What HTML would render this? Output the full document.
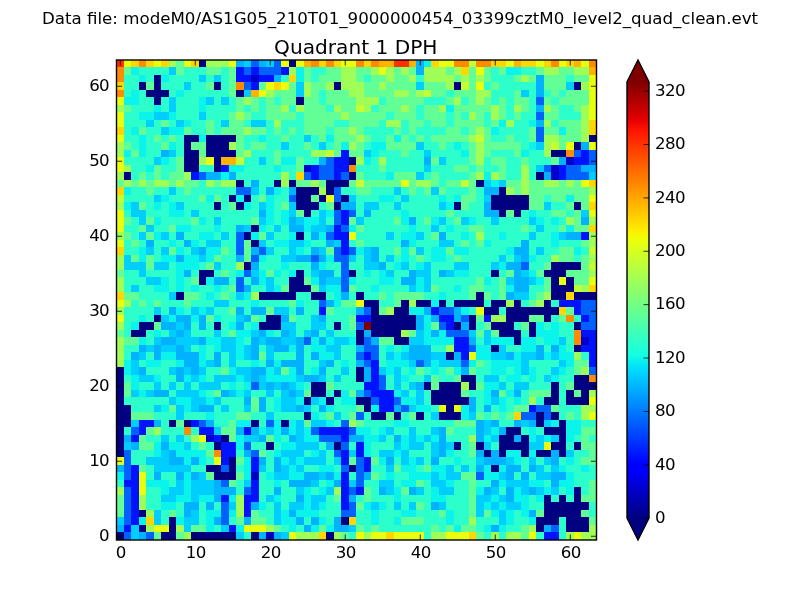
<!DOCTYPE html>
<html><head><meta charset="utf-8"><title>Quadrant 1 DPH</title>
<style>
html,body{margin:0;padding:0;background:#fff;}
#fig{position:relative;width:800px;height:600px;overflow:hidden;background:#fff;font-family:"DejaVu Sans","Liberation Sans",sans-serif;color:#000;}
</style></head><body><div id="fig">
<svg width="800" height="600" viewBox="0 0 800 600" style="position:absolute;left:0;top:0">
<defs><linearGradient id="cb" x1="0" y1="1" x2="0" y2="0">
<stop offset="0.0000" stop-color="#000080"/>
<stop offset="0.0156" stop-color="#000092"/>
<stop offset="0.0312" stop-color="#0000a4"/>
<stop offset="0.0469" stop-color="#0000b6"/>
<stop offset="0.0625" stop-color="#0000c8"/>
<stop offset="0.0781" stop-color="#0000da"/>
<stop offset="0.0938" stop-color="#0000ec"/>
<stop offset="0.1094" stop-color="#0000fe"/>
<stop offset="0.1250" stop-color="#0000ff"/>
<stop offset="0.1406" stop-color="#0010ff"/>
<stop offset="0.1562" stop-color="#0020ff"/>
<stop offset="0.1719" stop-color="#0030ff"/>
<stop offset="0.1875" stop-color="#0040ff"/>
<stop offset="0.2031" stop-color="#0050ff"/>
<stop offset="0.2188" stop-color="#0060ff"/>
<stop offset="0.2344" stop-color="#0070ff"/>
<stop offset="0.2500" stop-color="#0080ff"/>
<stop offset="0.2656" stop-color="#008fff"/>
<stop offset="0.2812" stop-color="#009fff"/>
<stop offset="0.2969" stop-color="#00afff"/>
<stop offset="0.3125" stop-color="#00bfff"/>
<stop offset="0.3281" stop-color="#00cfff"/>
<stop offset="0.3438" stop-color="#00dffc"/>
<stop offset="0.3594" stop-color="#08efef"/>
<stop offset="0.3750" stop-color="#15ffe2"/>
<stop offset="0.3906" stop-color="#21ffd5"/>
<stop offset="0.4062" stop-color="#2effc9"/>
<stop offset="0.4219" stop-color="#3bffbc"/>
<stop offset="0.4375" stop-color="#48ffaf"/>
<stop offset="0.4531" stop-color="#55ffa2"/>
<stop offset="0.4688" stop-color="#62ff95"/>
<stop offset="0.4844" stop-color="#6fff88"/>
<stop offset="0.5000" stop-color="#7bff7b"/>
<stop offset="0.5156" stop-color="#88ff6f"/>
<stop offset="0.5312" stop-color="#95ff62"/>
<stop offset="0.5469" stop-color="#a2ff55"/>
<stop offset="0.5625" stop-color="#afff48"/>
<stop offset="0.5781" stop-color="#bcff3b"/>
<stop offset="0.5938" stop-color="#c9ff2e"/>
<stop offset="0.6094" stop-color="#d5ff21"/>
<stop offset="0.6250" stop-color="#e2ff15"/>
<stop offset="0.6406" stop-color="#effe08"/>
<stop offset="0.6562" stop-color="#fcf000"/>
<stop offset="0.6719" stop-color="#ffe100"/>
<stop offset="0.6875" stop-color="#ffd200"/>
<stop offset="0.7031" stop-color="#ffc300"/>
<stop offset="0.7188" stop-color="#ffb500"/>
<stop offset="0.7344" stop-color="#ffa600"/>
<stop offset="0.7500" stop-color="#ff9700"/>
<stop offset="0.7656" stop-color="#ff8800"/>
<stop offset="0.7812" stop-color="#ff7a00"/>
<stop offset="0.7969" stop-color="#ff6b00"/>
<stop offset="0.8125" stop-color="#ff5c00"/>
<stop offset="0.8281" stop-color="#ff4d00"/>
<stop offset="0.8438" stop-color="#ff3f00"/>
<stop offset="0.8594" stop-color="#ff3000"/>
<stop offset="0.8750" stop-color="#ff2100"/>
<stop offset="0.8906" stop-color="#fe1200"/>
<stop offset="0.9062" stop-color="#ec0400"/>
<stop offset="0.9219" stop-color="#da0000"/>
<stop offset="0.9375" stop-color="#c80000"/>
<stop offset="0.9531" stop-color="#b60000"/>
<stop offset="0.9688" stop-color="#a40000"/>
<stop offset="0.9844" stop-color="#920000"/>
<stop offset="1.0000" stop-color="#800000"/>
</linearGradient></defs>
<g shape-rendering="crispEdges">
<rect x="117" y="60" width="480" height="480" fill="#2cffcb"/>
<path fill="#ff3000" d="M117 60h7v7h-7zM394 60h15v7h-15z"/>
<path fill="#e9ff0e" d="M124 60h7v7h-7zM154 60h7v7h-7zM184 60h7v7h-7zM229 60h7v7h-7zM281 60h8v7h-8zM296 60h8v7h-8zM341 60h15v7h-15zM439 60h15v7h-15zM506 60h8v7h-8zM536 60h8v7h-8zM559 60h7v7h-7zM581 60h8v7h-8zM379 67h7v8h-7zM476 67h8v8h-8zM589 75h8v7h-8zM266 82h8v8h-8zM281 82h8v8h-8zM476 82h8v8h-8zM589 82h8v8h-8zM259 90h7v7h-7zM589 90h8v7h-8zM117 97h7v8h-7zM589 97h8v8h-8zM589 105h8v7h-8zM117 112h7v8h-7zM589 112h8v8h-8zM117 120h7v7h-7zM117 135h7v7h-7zM566 142h8v8h-8zM589 142h8v8h-8zM117 157h7v8h-7zM206 157h8v8h-8zM117 165h7v7h-7zM401 180h8v7h-8zM581 180h8v7h-8zM326 195h8v7h-8zM589 195h8v7h-8zM117 210h7v7h-7zM589 210h8v7h-8zM117 217h7v8h-7zM117 225h7v7h-7zM349 232h7v8h-7zM117 240h7v7h-7zM559 277h7v8h-7zM589 277h8v8h-8zM117 300h7v7h-7zM356 300h8v7h-8zM476 307h8v8h-8zM117 315h7v7h-7zM469 352h7v8h-7zM589 397h8v8h-8zM439 405h7v7h-7zM454 405h7v7h-7zM589 412h8v8h-8zM199 435h7v7h-7zM544 442h7v8h-7zM117 457h7v8h-7zM214 457h7v8h-7zM139 472h7v8h-7zM139 480h7v7h-7zM139 487h7v8h-7zM154 525h15v7h-15zM244 525h22v7h-22zM289 532h7v8h-7zM356 532h8v8h-8zM371 532h15v8h-15zM394 532h30v8h-30zM446 532h23v8h-23zM529 532h7v8h-7zM574 532h7v8h-7z"/>
<path fill="#ffd700" d="M131 60h8v7h-8zM146 60h8v7h-8zM161 60h8v7h-8zM191 60h8v7h-8zM319 60h7v7h-7zM334 60h7v7h-7zM364 60h7v7h-7zM431 60h8v7h-8zM491 60h15v7h-15zM521 60h15v7h-15zM544 60h7v7h-7zM566 60h8v7h-8zM461 67h8v8h-8zM289 75h7v7h-7zM117 82h7v8h-7zM274 82h7v8h-7zM589 120h8v7h-8zM117 127h7v8h-7zM589 127h8v8h-8zM296 172h8v8h-8zM589 180h8v7h-8zM117 187h7v8h-7zM589 202h8v8h-8zM589 225h8v7h-8zM117 247h7v8h-7zM589 285h8v7h-8zM117 292h7v8h-7zM566 292h8v8h-8zM559 307h7v8h-7zM514 412h7v8h-7zM146 517h8v8h-8zM349 517h7v8h-7zM319 532h7v8h-7zM386 532h8v8h-8zM469 532h7v8h-7z"/>
<path fill="#ff8c00" d="M139 60h7v7h-7zM311 60h8v7h-8zM326 60h8v7h-8zM356 60h8v7h-8zM371 60h8v7h-8zM454 60h15v7h-15zM476 60h15v7h-15zM551 60h8v7h-8zM589 60h8v7h-8zM117 67h7v8h-7zM117 75h7v7h-7zM236 82h8v8h-8zM117 90h7v7h-7zM566 150h8v7h-8zM349 165h7v7h-7zM566 315h8v7h-8zM574 330h7v7h-7zM574 337h7v8h-7zM589 375h8v7h-8zM184 427h7v8h-7zM214 450h7v7h-7z"/>
<path fill="#a0ff57" d="M169 60h7v7h-7zM206 60h23v7h-23zM289 67h7v8h-7zM341 67h15v8h-15zM371 67h8v8h-8zM386 67h8v8h-8zM401 67h8v8h-8zM424 67h22v8h-22zM454 67h7v8h-7zM544 67h15v8h-15zM574 67h15v8h-15zM341 75h15v7h-15zM386 75h8v7h-8zM409 75h7v7h-7zM424 75h30v7h-30zM461 75h8v7h-8zM476 75h8v7h-8zM521 75h8v7h-8zM304 82h7v8h-7zM326 82h8v8h-8zM341 82h23v8h-23zM379 82h7v8h-7zM446 82h8v8h-8zM581 82h8v8h-8zM266 90h8v7h-8zM304 90h7v7h-7zM349 90h15v7h-15zM394 90h15v7h-15zM416 90h8v7h-8zM476 90h15v7h-15zM244 97h7v8h-7zM356 97h23v8h-23zM454 97h7v8h-7zM476 97h8v8h-8zM117 105h7v7h-7zM281 105h8v7h-8zM296 105h8v7h-8zM334 105h7v7h-7zM364 105h7v7h-7zM401 105h8v7h-8zM439 105h7v7h-7zM491 105h8v7h-8zM514 105h7v7h-7zM544 105h7v7h-7zM581 105h8v7h-8zM236 112h8v8h-8zM341 112h8v8h-8zM469 112h7v8h-7zM491 112h8v8h-8zM581 112h8v8h-8zM274 120h7v7h-7zM386 120h15v7h-15zM506 120h8v7h-8zM544 120h7v7h-7zM581 120h8v7h-8zM244 127h7v8h-7zM349 127h7v8h-7zM476 127h8v8h-8zM581 127h8v8h-8zM356 135h8v7h-8zM469 135h7v7h-7zM544 135h15v7h-15zM581 135h8v7h-8zM117 142h7v8h-7zM229 142h7v8h-7zM349 142h7v8h-7zM476 142h8v8h-8zM544 142h7v8h-7zM117 150h7v7h-7zM244 150h7v7h-7zM311 150h15v7h-15zM476 150h8v7h-8zM544 150h7v7h-7zM199 157h7v8h-7zM356 157h8v8h-8zM379 157h7v8h-7zM476 157h8v8h-8zM124 165h7v7h-7zM521 165h8v7h-8zM117 172h7v8h-7zM184 172h7v8h-7zM281 172h8v8h-8zM476 172h8v8h-8zM491 172h8v8h-8zM521 172h8v8h-8zM124 180h7v7h-7zM139 180h7v7h-7zM154 180h15v7h-15zM176 180h8v7h-8zM206 180h8v7h-8zM221 180h15v7h-15zM281 180h8v7h-8zM311 180h8v7h-8zM416 180h15v7h-15zM521 180h8v7h-8zM544 180h15v7h-15zM566 180h8v7h-8zM319 187h7v8h-7zM506 187h8v8h-8zM521 187h8v8h-8zM589 187h8v8h-8zM117 202h7v8h-7zM566 217h8v8h-8zM589 217h8v8h-8zM117 232h7v8h-7zM476 232h8v8h-8zM589 232h8v8h-8zM589 240h8v7h-8zM117 255h7v7h-7zM551 255h8v7h-8zM589 255h8v7h-8zM117 262h7v8h-7zM236 262h8v8h-8zM589 270h8v7h-8zM117 277h7v8h-7zM117 285h7v7h-7zM581 285h8v7h-8zM251 292h8v8h-8zM544 292h7v8h-7zM124 300h7v7h-7zM409 300h7v7h-7zM506 300h8v7h-8zM536 300h8v7h-8zM117 307h7v8h-7zM386 307h8v8h-8zM491 315h15v7h-15zM117 322h7v8h-7zM401 330h8v7h-8zM117 337h7v8h-7zM117 345h7v7h-7zM446 345h8v7h-8zM117 352h7v8h-7zM574 352h7v8h-7zM117 360h7v7h-7zM581 367h8v8h-8zM461 382h8v8h-8zM589 390h8v7h-8zM529 397h7v8h-7zM581 405h16v7h-16zM581 412h8v8h-8zM349 420h7v7h-7zM154 427h7v8h-7zM191 435h8v7h-8zM469 435h7v7h-7zM117 487h7v8h-7zM334 487h7v8h-7zM139 495h7v7h-7zM236 495h8v7h-8zM139 502h7v8h-7zM236 502h8v8h-8zM146 510h8v7h-8zM236 510h8v7h-8zM469 517h7v8h-7zM146 525h8v7h-8zM176 525h8v7h-8zM266 525h8v7h-8zM529 525h7v7h-7zM589 525h8v7h-8zM184 532h7v8h-7zM296 532h23v8h-23zM334 532h7v8h-7zM364 532h7v8h-7zM431 532h15v8h-15zM491 532h8v8h-8zM506 532h15v8h-15zM566 532h8v8h-8zM581 532h16v8h-16z"/>
<path fill="#61ff96" d="M176 60h8v7h-8zM124 67h7v8h-7zM176 67h8v8h-8zM206 67h15v8h-15zM229 67h7v8h-7zM304 67h7v8h-7zM326 67h15v8h-15zM356 67h15v8h-15zM394 67h7v8h-7zM409 67h7v8h-7zM446 67h8v8h-8zM469 67h7v8h-7zM484 67h7v8h-7zM499 67h7v8h-7zM536 67h8v8h-8zM559 67h15v8h-15zM229 75h7v7h-7zM304 75h7v7h-7zM319 75h22v7h-22zM356 75h8v7h-8zM371 75h15v7h-15zM394 75h15v7h-15zM454 75h7v7h-7zM469 75h7v7h-7zM484 75h7v7h-7zM514 75h7v7h-7zM529 75h7v7h-7zM544 75h22v7h-22zM574 75h15v7h-15zM146 82h8v8h-8zM206 82h8v8h-8zM229 82h7v8h-7zM259 82h7v8h-7zM289 82h7v8h-7zM311 82h15v8h-15zM364 82h15v8h-15zM386 82h30v8h-30zM424 82h22v8h-22zM469 82h7v8h-7zM491 82h8v8h-8zM544 82h22v8h-22zM229 90h7v7h-7zM274 90h22v7h-22zM311 90h8v7h-8zM326 90h23v7h-23zM364 90h30v7h-30zM409 90h7v7h-7zM431 90h15v7h-15zM454 90h22v7h-22zM514 90h7v7h-7zM551 90h8v7h-8zM566 90h23v7h-23zM236 97h8v8h-8zM251 97h8v8h-8zM266 97h8v8h-8zM281 97h15v8h-15zM304 97h15v8h-15zM326 97h30v8h-30zM386 97h38v8h-38zM446 97h8v8h-8zM469 97h7v8h-7zM484 97h7v8h-7zM499 97h7v8h-7zM514 97h15v8h-15zM544 97h7v8h-7zM559 97h30v8h-30zM124 105h7v7h-7zM236 105h8v7h-8zM251 105h8v7h-8zM266 105h15v7h-15zM304 105h22v7h-22zM341 105h15v7h-15zM379 105h22v7h-22zM409 105h7v7h-7zM424 105h15v7h-15zM454 105h37v7h-37zM499 105h7v7h-7zM521 105h8v7h-8zM551 105h8v7h-8zM574 105h7v7h-7zM229 112h7v8h-7zM244 112h7v8h-7zM266 112h30v8h-30zM304 112h37v8h-37zM349 112h37v8h-37zM394 112h22v8h-22zM424 112h22v8h-22zM454 112h7v8h-7zM476 112h8v8h-8zM499 112h7v8h-7zM514 112h7v8h-7zM544 112h15v8h-15zM161 120h8v7h-8zM206 120h8v7h-8zM229 120h15v7h-15zM304 120h30v7h-30zM349 120h30v7h-30zM409 120h15v7h-15zM431 120h15v7h-15zM454 120h30v7h-30zM491 120h8v7h-8zM559 120h22v7h-22zM139 127h7v8h-7zM184 127h7v8h-7zM206 127h8v8h-8zM221 127h23v8h-23zM251 127h15v8h-15zM274 127h7v8h-7zM289 127h7v8h-7zM304 127h22v8h-22zM334 127h15v8h-15zM356 127h8v8h-8zM394 127h7v8h-7zM409 127h7v8h-7zM446 127h15v8h-15zM469 127h7v8h-7zM484 127h7v8h-7zM529 127h7v8h-7zM544 127h15v8h-15zM566 127h15v8h-15zM154 135h7v7h-7zM169 135h7v7h-7zM236 135h8v7h-8zM281 135h8v7h-8zM319 135h7v7h-7zM334 135h22v7h-22zM364 135h7v7h-7zM386 135h8v7h-8zM401 135h8v7h-8zM416 135h8v7h-8zM431 135h38v7h-38zM484 135h7v7h-7zM506 135h8v7h-8zM529 135h7v7h-7zM559 135h22v7h-22zM124 142h7v8h-7zM161 142h8v8h-8zM191 142h15v8h-15zM236 142h8v8h-8zM251 142h15v8h-15zM304 142h7v8h-7zM334 142h7v8h-7zM356 142h8v8h-8zM386 142h30v8h-30zM439 142h7v8h-7zM469 142h7v8h-7zM484 142h37v8h-37zM559 142h7v8h-7zM131 150h8v7h-8zM199 150h7v7h-7zM236 150h8v7h-8zM274 150h7v7h-7zM334 150h7v7h-7zM349 150h15v7h-15zM401 150h8v7h-8zM469 150h7v7h-7zM484 150h7v7h-7zM514 150h7v7h-7zM176 157h8v8h-8zM274 157h7v8h-7zM296 157h8v8h-8zM431 157h8v8h-8zM469 157h7v8h-7zM491 157h15v8h-15zM521 157h8v8h-8zM551 157h8v8h-8zM154 165h7v7h-7zM176 165h8v7h-8zM296 165h8v7h-8zM379 165h7v7h-7zM454 165h15v7h-15zM476 165h8v7h-8zM499 165h7v7h-7zM139 172h7v8h-7zM154 172h7v8h-7zM169 172h15v8h-15zM356 172h8v8h-8zM394 172h22v8h-22zM431 172h8v8h-8zM469 172h7v8h-7zM499 172h7v8h-7zM117 180h7v7h-7zM131 180h8v7h-8zM146 180h8v7h-8zM169 180h7v7h-7zM184 180h15v7h-15zM214 180h7v7h-7zM296 180h15v7h-15zM319 180h7v7h-7zM349 180h7v7h-7zM364 180h37v7h-37zM409 180h7v7h-7zM431 180h8v7h-8zM446 180h15v7h-15zM469 180h7v7h-7zM506 180h15v7h-15zM529 180h15v7h-15zM559 180h7v7h-7zM574 180h7v7h-7zM146 187h8v8h-8zM184 187h7v8h-7zM356 187h15v8h-15zM409 187h7v8h-7zM424 187h7v8h-7zM439 187h7v8h-7zM469 187h7v8h-7zM514 187h7v8h-7zM529 187h60v8h-60zM199 195h7v7h-7zM214 195h7v7h-7zM259 195h7v7h-7zM311 195h8v7h-8zM461 195h15v7h-15zM529 195h15v7h-15zM551 195h15v7h-15zM574 195h15v7h-15zM139 202h7v8h-7zM229 202h7v8h-7zM281 202h8v8h-8zM326 202h8v8h-8zM461 202h8v8h-8zM529 202h15v8h-15zM566 202h8v8h-8zM581 202h8v8h-8zM296 210h8v7h-8zM446 210h8v7h-8zM506 210h8v7h-8zM551 210h15v7h-15zM574 210h7v7h-7zM124 217h7v8h-7zM146 217h8v8h-8zM191 217h8v8h-8zM251 217h8v8h-8zM349 217h7v8h-7zM394 217h7v8h-7zM424 217h7v8h-7zM454 217h7v8h-7zM574 217h7v8h-7zM139 225h7v7h-7zM169 225h7v7h-7zM356 225h8v7h-8zM469 225h15v7h-15zM521 225h8v7h-8zM559 225h7v7h-7zM574 225h15v7h-15zM124 232h7v8h-7zM146 232h8v8h-8zM259 232h7v8h-7zM431 232h8v8h-8zM131 240h8v7h-8zM244 240h7v7h-7zM356 240h8v7h-8zM461 240h8v7h-8zM476 240h8v7h-8zM581 240h8v7h-8zM169 247h7v8h-7zM221 247h8v8h-8zM244 247h7v8h-7zM326 247h8v8h-8zM394 247h7v8h-7zM409 247h7v8h-7zM446 247h8v8h-8zM559 247h15v8h-15zM131 255h8v7h-8zM146 255h8v7h-8zM214 255h7v7h-7zM244 255h7v7h-7zM416 255h8v7h-8zM454 255h7v7h-7zM559 255h15v7h-15zM581 255h8v7h-8zM146 262h8v8h-8zM206 262h8v8h-8zM544 262h7v8h-7zM581 262h8v8h-8zM117 270h7v7h-7zM221 270h8v7h-8zM266 270h8v7h-8zM506 270h8v7h-8zM536 270h8v7h-8zM566 270h23v7h-23zM191 277h8v8h-8zM304 277h7v8h-7zM476 277h8v8h-8zM499 277h7v8h-7zM544 277h7v8h-7zM574 277h15v8h-15zM229 285h7v7h-7zM281 285h8v7h-8zM311 285h8v7h-8zM349 285h7v7h-7zM431 285h8v7h-8zM469 285h15v7h-15zM499 285h7v7h-7zM544 285h7v7h-7zM124 292h15v8h-15zM184 292h15v8h-15zM221 292h8v8h-8zM379 292h7v8h-7zM394 292h30v8h-30zM469 292h7v8h-7zM484 292h7v8h-7zM499 292h7v8h-7zM536 292h8v8h-8zM139 300h7v7h-7zM154 300h7v7h-7zM184 300h7v7h-7zM289 300h7v7h-7zM341 300h15v7h-15zM394 300h7v7h-7zM529 300h7v7h-7zM229 307h7v8h-7zM266 307h8v8h-8zM326 307h8v8h-8zM379 307h7v8h-7zM566 307h8v8h-8zM206 315h8v7h-8zM251 315h8v7h-8zM289 315h7v7h-7zM349 315h7v7h-7zM476 315h8v7h-8zM529 315h15v7h-15zM559 315h7v7h-7zM154 322h7v8h-7zM349 322h7v8h-7zM431 322h8v8h-8zM484 322h7v8h-7zM521 322h8v8h-8zM117 330h7v7h-7zM229 330h7v7h-7zM409 330h7v7h-7zM476 330h8v7h-8zM491 330h8v7h-8zM124 337h15v8h-15zM379 337h15v8h-15zM259 352h7v8h-7zM476 360h8v7h-8zM574 360h15v7h-15zM221 367h8v8h-8zM281 367h8v8h-8zM416 367h8v8h-8zM446 367h8v8h-8zM469 367h7v8h-7zM574 367h7v8h-7zM431 375h8v7h-8zM454 375h7v7h-7zM124 382h7v8h-7zM326 382h8v8h-8zM431 382h8v8h-8zM476 382h8v8h-8zM566 382h8v8h-8zM124 390h7v7h-7zM214 390h7v7h-7zM304 390h7v7h-7zM349 390h7v7h-7zM461 390h8v7h-8zM499 390h7v7h-7zM529 390h22v7h-22zM574 390h7v7h-7zM251 397h8v8h-8zM169 405h7v7h-7zM251 405h8v7h-8zM356 405h8v7h-8zM514 405h15v7h-15zM551 405h8v7h-8zM131 412h23v8h-23zM236 412h15v8h-15zM326 412h8v8h-8zM349 412h7v8h-7zM386 412h8v8h-8zM409 412h7v8h-7zM476 412h8v8h-8zM491 412h8v8h-8zM506 412h8v8h-8zM566 412h8v8h-8zM176 420h8v7h-8zM229 420h7v7h-7zM304 420h7v7h-7zM356 420h8v7h-8zM454 420h22v7h-22zM146 427h8v8h-8zM221 427h15v8h-15zM446 427h8v8h-8zM581 427h16v8h-16zM139 435h7v7h-7zM229 435h7v7h-7zM266 435h8v7h-8zM581 435h8v7h-8zM139 442h15v8h-15zM199 442h7v8h-7zM469 442h7v8h-7zM581 442h16v8h-16zM206 450h8v7h-8zM259 450h7v7h-7zM469 450h7v7h-7zM589 450h8v7h-8zM236 457h8v8h-8zM349 457h7v8h-7zM371 457h8v8h-8zM581 457h16v8h-16zM139 465h7v7h-7zM394 465h7v7h-7zM424 465h7v7h-7zM206 472h8v8h-8zM236 472h8v8h-8zM371 472h8v8h-8zM461 472h15v8h-15zM229 480h7v7h-7zM416 480h8v7h-8zM469 480h7v7h-7zM589 480h8v7h-8zM364 487h7v8h-7zM401 487h8v8h-8zM469 487h7v8h-7zM589 487h8v8h-8zM117 495h7v7h-7zM334 495h7v7h-7zM364 495h7v7h-7zM469 495h7v7h-7zM581 495h16v7h-16zM117 502h7v8h-7zM356 502h8v8h-8zM416 502h8v8h-8zM469 502h7v8h-7zM117 510h7v7h-7zM169 510h7v7h-7zM251 510h8v7h-8zM439 510h7v7h-7zM469 510h7v7h-7zM484 510h7v7h-7zM536 510h8v7h-8zM581 510h8v7h-8zM236 517h8v8h-8zM251 517h15v8h-15zM401 517h23v8h-23zM589 517h8v8h-8zM191 525h15v7h-15zM274 525h7v7h-7zM319 525h7v7h-7zM356 525h8v7h-8zM371 525h8v7h-8zM431 525h8v7h-8zM446 525h8v7h-8zM461 525h15v7h-15zM521 525h8v7h-8zM154 532h7v8h-7zM176 532h8v8h-8zM341 532h8v8h-8zM476 532h8v8h-8zM521 532h8v8h-8z"/>
<path fill="#000080" d="M199 60h7v7h-7zM289 60h7v7h-7zM154 75h7v7h-7zM139 82h7v8h-7zM154 82h7v8h-7zM214 82h7v8h-7zM334 82h7v8h-7zM454 82h7v8h-7zM574 82h7v8h-7zM146 90h23v7h-23zM236 90h8v7h-8zM154 97h7v8h-7zM296 97h8v8h-8zM184 135h15v7h-15zM206 135h30v7h-30zM589 135h8v7h-8zM184 142h7v8h-7zM206 142h23v8h-23zM574 142h7v8h-7zM184 150h15v7h-15zM206 150h30v7h-30zM551 150h15v7h-15zM184 157h15v8h-15zM214 157h7v8h-7zM349 157h7v8h-7zM184 165h15v7h-15zM214 165h7v7h-7zM124 172h7v8h-7zM349 172h7v8h-7zM536 172h8v8h-8zM236 180h8v7h-8zM274 180h7v7h-7zM289 180h7v7h-7zM326 180h23v7h-23zM476 180h8v7h-8zM296 187h23v8h-23zM326 187h8v8h-8zM499 187h7v8h-7zM229 195h7v7h-7zM244 195h7v7h-7zM296 195h15v7h-15zM319 195h7v7h-7zM341 195h8v7h-8zM491 195h38v7h-38zM214 202h7v8h-7zM236 202h8v8h-8zM296 202h23v8h-23zM334 202h7v8h-7zM454 202h7v8h-7zM491 202h38v8h-38zM574 202h7v8h-7zM304 210h7v7h-7zM499 210h7v7h-7zM514 210h7v7h-7zM251 225h8v7h-8zM244 232h7v8h-7zM296 232h8v8h-8zM251 240h8v7h-8zM244 262h7v8h-7zM551 262h30v8h-30zM199 270h15v7h-15zM296 270h8v7h-8zM349 270h7v7h-7zM491 270h8v7h-8zM544 270h22v7h-22zM199 277h7v8h-7zM289 277h15v8h-15zM551 277h8v8h-8zM566 277h8v8h-8zM289 285h22v7h-22zM551 285h23v7h-23zM176 292h8v8h-8zM259 292h37v8h-37zM311 292h15v8h-15zM356 292h8v8h-8zM476 292h8v8h-8zM551 292h15v8h-15zM574 292h23v8h-23zM364 300h15v7h-15zM401 300h8v7h-8zM416 300h15v7h-15zM439 300h7v7h-7zM454 300h30v7h-30zM491 300h15v7h-15zM514 300h7v7h-7zM544 300h7v7h-7zM371 307h8v8h-8zM394 307h15v8h-15zM484 307h15v8h-15zM506 307h53v8h-53zM154 315h7v7h-7zM266 315h15v7h-15zM371 315h45v7h-45zM469 315h7v7h-7zM506 315h23v7h-23zM544 315h7v7h-7zM139 322h15v8h-15zM214 322h7v8h-7zM259 322h22v8h-22zM334 322h7v8h-7zM371 322h45v8h-45zM454 322h7v8h-7zM469 322h7v8h-7zM491 322h23v8h-23zM529 322h7v8h-7zM574 322h7v8h-7zM131 330h15v7h-15zM356 330h8v7h-8zM371 330h30v7h-30zM499 330h22v7h-22zM529 330h7v7h-7zM356 337h8v8h-8zM394 337h15v8h-15zM514 337h7v8h-7zM491 345h8v7h-8zM574 345h7v7h-7zM446 352h8v8h-8zM117 367h7v8h-7zM356 367h8v8h-8zM117 375h7v7h-7zM356 375h8v7h-8zM461 375h15v7h-15zM574 375h15v7h-15zM117 382h7v8h-7zM311 382h15v8h-15zM424 382h7v8h-7zM439 382h22v8h-22zM469 382h7v8h-7zM551 382h8v8h-8zM574 382h23v8h-23zM117 390h7v7h-7zM311 390h15v7h-15zM334 390h7v7h-7zM431 390h30v7h-30zM551 390h8v7h-8zM566 390h8v7h-8zM581 390h8v7h-8zM117 397h7v8h-7zM304 397h7v8h-7zM326 397h8v8h-8zM356 397h15v8h-15zM431 397h38v8h-38zM544 397h15v8h-15zM566 397h23v8h-23zM117 405h14v7h-14zM364 405h7v7h-7zM446 405h8v7h-8zM117 412h14v8h-14zM304 412h7v8h-7zM371 412h15v8h-15zM394 412h7v8h-7zM416 412h8v8h-8zM439 412h22v8h-22zM536 412h8v8h-8zM551 412h8v8h-8zM117 420h14v7h-14zM169 420h7v7h-7zM184 420h7v7h-7zM251 420h8v7h-8zM281 420h8v7h-8zM536 420h8v7h-8zM559 420h7v7h-7zM117 427h7v8h-7zM506 427h15v8h-15zM544 427h22v8h-22zM117 435h7v7h-7zM221 435h8v7h-8zM499 435h15v7h-15zM521 435h8v7h-8zM559 435h7v7h-7zM117 442h7v8h-7zM214 442h7v8h-7zM266 442h8v8h-8zM334 442h7v8h-7zM454 442h7v8h-7zM476 442h8v8h-8zM499 442h30v8h-30zM551 442h15v8h-15zM574 442h7v8h-7zM117 450h7v7h-7zM484 450h7v7h-7zM499 450h7v7h-7zM521 450h8v7h-8zM536 450h15v7h-15zM559 450h7v7h-7zM229 457h7v8h-7zM206 465h15v7h-15zM229 465h7v7h-7zM349 465h7v7h-7zM491 465h8v7h-8zM214 472h22v8h-22zM574 487h7v8h-7zM544 495h7v7h-7zM559 495h7v7h-7zM574 495h7v7h-7zM544 502h45v8h-45zM139 510h7v7h-7zM544 510h37v7h-37zM169 517h7v8h-7zM341 517h8v8h-8zM536 517h23v8h-23zM566 517h23v8h-23zM139 525h7v7h-7zM169 525h7v7h-7zM536 525h8v7h-8zM566 525h23v7h-23zM117 532h7v8h-7zM161 532h15v8h-15zM191 532h45v8h-45zM251 532h8v8h-8zM326 532h8v8h-8z"/>
<path fill="#00b2ff" d="M236 60h8v7h-8zM259 60h7v7h-7zM416 60h8v7h-8zM416 67h8v8h-8zM274 75h7v7h-7zM536 75h8v7h-8zM536 82h8v8h-8zM536 90h8v7h-8zM536 105h8v7h-8zM536 120h8v7h-8zM581 142h8v8h-8zM161 150h8v7h-8zM319 157h7v8h-7zM424 157h7v8h-7zM559 157h7v8h-7zM581 165h16v7h-16zM206 172h15v8h-15zM229 172h7v8h-7zM544 172h7v8h-7zM251 180h8v7h-8zM266 187h8v8h-8zM289 187h7v8h-7zM484 187h15v8h-15zM341 202h15v8h-15zM484 202h7v8h-7zM259 210h7v7h-7zM364 210h7v7h-7zM484 210h15v7h-15zM289 217h7v8h-7zM409 217h7v8h-7zM581 217h8v8h-8zM236 225h8v7h-8zM289 225h15v7h-15zM326 225h8v7h-8zM176 232h8v8h-8zM311 232h8v8h-8zM439 232h7v8h-7zM566 232h15v8h-15zM146 240h8v7h-8zM184 240h7v7h-7zM326 240h8v7h-8zM401 240h8v7h-8zM521 240h8v7h-8zM199 247h7v8h-7zM251 247h8v8h-8zM311 247h8v8h-8zM371 247h8v8h-8zM514 247h15v8h-15zM176 255h8v7h-8zM236 255h8v7h-8zM296 255h15v7h-15zM319 255h7v7h-7zM371 255h8v7h-8zM521 255h8v7h-8zM251 262h8v8h-8zM311 262h8v8h-8zM379 262h7v8h-7zM506 262h15v8h-15zM184 270h7v7h-7zM319 270h15v7h-15zM409 270h7v7h-7zM439 270h7v7h-7zM514 270h7v7h-7zM214 277h15v8h-15zM251 277h8v8h-8zM319 277h7v8h-7zM401 277h15v8h-15zM514 277h15v8h-15zM244 285h7v7h-7zM514 285h15v7h-15zM341 292h8v8h-8zM506 292h8v8h-8zM326 300h8v7h-8zM169 307h7v8h-7zM236 307h8v8h-8zM251 307h15v8h-15zM296 307h8v8h-8zM356 307h8v8h-8zM424 307h7v8h-7zM454 307h7v8h-7zM176 315h15v7h-15zM199 315h7v7h-7zM244 315h7v7h-7zM281 315h8v7h-8zM319 315h7v7h-7zM416 315h8v7h-8zM431 315h8v7h-8zM454 315h7v7h-7zM161 322h15v8h-15zM184 322h7v8h-7zM199 322h7v8h-7zM236 322h8v8h-8zM416 322h8v8h-8zM461 322h8v8h-8zM176 330h8v7h-8zM259 330h7v7h-7zM281 330h8v7h-8zM311 330h8v7h-8zM364 330h7v7h-7zM431 330h8v7h-8zM161 337h15v8h-15zM199 337h7v8h-7zM251 337h8v8h-8zM266 337h15v8h-15zM296 337h8v8h-8zM319 337h7v8h-7zM371 337h8v8h-8zM469 337h7v8h-7zM139 345h7v7h-7zM154 345h7v7h-7zM176 345h8v7h-8zM251 345h8v7h-8zM274 345h15v7h-15zM296 345h8v7h-8zM356 345h8v7h-8zM409 345h22v7h-22zM536 345h8v7h-8zM551 345h8v7h-8zM131 352h8v8h-8zM154 352h7v8h-7zM176 352h23v8h-23zM214 352h7v8h-7zM251 352h8v8h-8zM296 352h8v8h-8zM311 352h8v8h-8zM409 352h22v8h-22zM454 352h7v8h-7zM506 352h8v8h-8zM536 352h8v8h-8zM184 360h15v7h-15zM214 360h7v7h-7zM266 360h8v7h-8zM281 360h23v7h-23zM326 360h8v7h-8zM356 360h8v7h-8zM424 360h7v7h-7zM139 367h7v8h-7zM176 367h8v8h-8zM191 367h8v8h-8zM251 367h15v8h-15zM296 367h8v8h-8zM319 367h7v8h-7zM364 367h7v8h-7zM461 367h8v8h-8zM176 375h8v7h-8zM251 375h8v7h-8zM304 375h15v7h-15zM364 375h7v7h-7zM266 382h8v8h-8zM281 382h8v8h-8zM416 382h8v8h-8zM154 390h15v7h-15zM221 390h8v7h-8zM289 390h7v7h-7zM356 390h8v7h-8zM491 390h8v7h-8zM514 390h7v7h-7zM244 397h7v8h-7zM259 397h7v8h-7zM469 397h7v8h-7zM199 405h15v7h-15zM259 405h7v7h-7zM296 405h8v7h-8zM319 405h7v7h-7zM394 405h7v7h-7zM469 405h7v7h-7zM484 405h7v7h-7zM154 420h7v7h-7zM206 420h8v7h-8zM476 420h8v7h-8zM491 420h8v7h-8zM514 420h7v7h-7zM529 420h7v7h-7zM236 427h8v8h-8zM251 427h8v8h-8zM281 427h8v8h-8zM439 427h7v8h-7zM476 427h8v8h-8zM499 427h7v8h-7zM124 435h7v7h-7zM259 435h7v7h-7zM289 435h7v7h-7zM349 435h15v7h-15zM394 435h7v7h-7zM439 435h7v7h-7zM476 435h8v7h-8zM514 435h7v7h-7zM131 442h8v8h-8zM161 442h8v8h-8zM326 442h8v8h-8zM439 442h7v8h-7zM169 450h7v7h-7zM244 450h7v7h-7zM439 450h7v7h-7zM476 450h8v7h-8zM491 450h8v7h-8zM551 450h8v7h-8zM169 457h15v8h-15zM191 457h8v8h-8zM259 457h7v8h-7zM274 457h7v8h-7zM386 457h8v8h-8zM431 457h8v8h-8zM484 457h22v8h-22zM551 457h8v8h-8zM117 465h7v7h-7zM274 465h7v7h-7zM476 465h8v7h-8zM506 465h15v7h-15zM529 465h7v7h-7zM154 472h7v8h-7zM176 472h8v8h-8zM191 472h8v8h-8zM304 472h15v8h-15zM326 472h8v8h-8zM364 472h7v8h-7zM506 472h8v8h-8zM521 472h8v8h-8zM551 472h15v8h-15zM214 480h7v7h-7zM289 480h22v7h-22zM334 480h7v7h-7zM491 480h8v7h-8zM551 480h8v7h-8zM214 487h22v8h-22zM274 487h7v8h-7zM379 487h7v8h-7zM409 487h7v8h-7zM484 487h7v8h-7zM506 487h8v8h-8zM529 487h7v8h-7zM214 495h7v7h-7zM296 495h8v7h-8zM349 495h7v7h-7zM506 495h8v7h-8zM184 502h15v8h-15zM206 502h8v8h-8zM251 502h8v8h-8zM431 502h8v8h-8zM184 510h7v7h-7zM289 510h7v7h-7zM529 510h7v7h-7zM214 517h7v8h-7zM244 517h7v8h-7zM296 517h8v8h-8zM311 517h8v8h-8zM334 517h7v8h-7zM117 525h7v7h-7zM304 525h7v7h-7zM334 525h15v7h-15zM491 525h8v7h-8zM544 525h7v7h-7zM139 532h7v8h-7zM259 532h7v8h-7zM274 532h7v8h-7z"/>
<path fill="#00ceff" d="M244 60h7v7h-7zM266 60h8v7h-8zM169 67h7v8h-7zM199 75h7v7h-7zM214 75h7v7h-7zM184 82h7v8h-7zM296 82h8v8h-8zM416 82h8v8h-8zM566 82h8v8h-8zM244 90h7v7h-7zM296 90h8v7h-8zM521 90h8v7h-8zM169 97h7v8h-7zM206 97h8v8h-8zM221 97h8v8h-8zM169 105h7v7h-7zM154 112h15v8h-15zM199 112h7v8h-7zM146 120h8v7h-8zM176 120h8v7h-8zM221 120h8v7h-8zM251 120h15v7h-15zM161 127h8v8h-8zM304 135h7v7h-7zM281 142h8v8h-8zM319 142h7v8h-7zM416 142h8v8h-8zM536 142h8v8h-8zM169 150h7v7h-7zM364 150h7v7h-7zM424 150h7v7h-7zM154 157h7v8h-7zM259 157h7v8h-7zM439 157h7v8h-7zM424 165h7v7h-7zM536 165h8v7h-8zM416 172h8v8h-8zM589 172h8v8h-8zM484 180h7v7h-7zM499 180h7v7h-7zM169 187h7v8h-7zM251 187h8v8h-8zM394 187h7v8h-7zM431 187h8v8h-8zM154 195h7v7h-7zM349 195h7v7h-7zM401 195h8v7h-8zM484 195h7v7h-7zM131 202h8v8h-8zM176 202h8v8h-8zM259 202h7v8h-7zM289 202h7v8h-7zM364 202h15v8h-15zM394 202h7v8h-7zM439 202h7v8h-7zM544 202h7v8h-7zM131 210h15v7h-15zM191 210h8v7h-8zM289 210h7v7h-7zM319 210h7v7h-7zM581 210h8v7h-8zM139 217h7v8h-7zM214 217h7v8h-7zM259 217h7v8h-7zM296 217h8v8h-8zM319 217h7v8h-7zM356 217h8v8h-8zM439 217h7v8h-7zM461 217h8v8h-8zM491 217h8v8h-8zM529 217h7v8h-7zM146 225h8v7h-8zM244 225h7v7h-7zM274 225h7v7h-7zM311 225h15v7h-15zM431 225h8v7h-8zM536 225h8v7h-8zM139 232h7v8h-7zM161 232h8v8h-8zM221 232h8v8h-8zM266 232h8v8h-8zM386 232h8v8h-8zM416 232h8v8h-8zM529 232h7v8h-7zM559 232h7v8h-7zM206 240h15v7h-15zM259 240h7v7h-7zM289 240h15v7h-15zM334 240h7v7h-7zM439 240h15v7h-15zM146 247h8v8h-8zM161 247h8v8h-8zM191 247h8v8h-8zM266 247h8v8h-8zM289 247h7v8h-7zM319 247h7v8h-7zM364 247h7v8h-7zM416 247h8v8h-8zM536 247h8v8h-8zM124 255h7v7h-7zM199 255h7v7h-7zM281 255h15v7h-15zM349 255h7v7h-7zM364 255h7v7h-7zM386 255h8v7h-8zM499 255h7v7h-7zM514 255h7v7h-7zM124 262h22v8h-22zM154 262h15v8h-15zM214 262h7v8h-7zM364 262h15v8h-15zM401 262h8v8h-8zM424 262h7v8h-7zM454 262h15v8h-15zM491 262h8v8h-8zM139 270h7v7h-7zM251 270h8v7h-8zM311 270h8v7h-8zM386 270h8v7h-8zM416 270h15v7h-15zM446 270h8v7h-8zM521 270h8v7h-8zM146 277h15v8h-15zM266 277h8v8h-8zM326 277h15v8h-15zM424 277h7v8h-7zM506 277h8v8h-8zM529 277h7v8h-7zM131 285h8v7h-8zM266 285h8v7h-8zM319 285h7v7h-7zM409 285h7v7h-7zM424 285h7v7h-7zM169 292h7v8h-7zM236 292h8v8h-8zM514 292h15v8h-15zM214 300h15v7h-15zM154 307h7v8h-7zM191 307h8v8h-8zM206 307h8v8h-8zM274 307h15v8h-15zM161 315h8v7h-8zM236 315h8v7h-8zM311 315h8v7h-8zM176 322h8v8h-8zM281 322h15v8h-15zM311 322h15v8h-15zM169 330h7v7h-7zM184 330h7v7h-7zM214 330h7v7h-7zM251 330h8v7h-8zM289 330h7v7h-7zM304 330h7v7h-7zM326 330h8v7h-8zM416 330h8v7h-8zM469 330h7v7h-7zM484 330h7v7h-7zM154 337h7v8h-7zM176 337h23v8h-23zM221 337h15v8h-15zM259 337h7v8h-7zM281 337h15v8h-15zM334 337h15v8h-15zM409 337h15v8h-15zM484 337h7v8h-7zM559 337h7v8h-7zM146 345h8v7h-8zM161 345h15v7h-15zM184 345h7v7h-7zM221 345h15v7h-15zM244 345h7v7h-7zM266 345h8v7h-8zM326 345h15v7h-15zM499 345h7v7h-7zM139 352h7v8h-7zM229 352h7v8h-7zM244 352h7v8h-7zM266 352h8v8h-8zM334 352h7v8h-7zM386 352h8v8h-8zM401 352h8v8h-8zM431 352h15v8h-15zM491 352h15v8h-15zM521 352h15v8h-15zM551 352h8v8h-8zM131 360h8v7h-8zM206 360h8v7h-8zM229 360h7v7h-7zM319 360h7v7h-7zM409 360h7v7h-7zM439 360h22v7h-22zM521 360h8v7h-8zM559 360h7v7h-7zM131 367h8v8h-8zM169 367h7v8h-7zM184 367h7v8h-7zM199 367h7v8h-7zM236 367h15v8h-15zM274 367h7v8h-7zM341 367h8v8h-8zM379 367h7v8h-7zM394 367h7v8h-7zM521 367h8v8h-8zM551 367h8v8h-8zM139 375h15v7h-15zM191 375h8v7h-8zM214 375h22v7h-22zM244 375h7v7h-7zM259 375h7v7h-7zM296 375h8v7h-8zM319 375h7v7h-7zM334 375h7v7h-7zM394 375h7v7h-7zM424 375h7v7h-7zM484 375h15v7h-15zM544 375h7v7h-7zM154 382h7v8h-7zM169 382h7v8h-7zM184 382h7v8h-7zM199 382h22v8h-22zM259 382h7v8h-7zM274 382h7v8h-7zM289 382h7v8h-7zM394 382h7v8h-7zM409 382h7v8h-7zM499 382h7v8h-7zM514 382h15v8h-15zM131 390h8v7h-8zM146 390h8v7h-8zM176 390h23v7h-23zM229 390h7v7h-7zM244 390h7v7h-7zM266 390h8v7h-8zM281 390h8v7h-8zM296 390h8v7h-8zM401 390h8v7h-8zM416 390h8v7h-8zM169 397h7v8h-7zM191 397h15v8h-15zM214 397h7v8h-7zM281 397h15v8h-15zM311 397h8v8h-8zM416 397h8v8h-8zM491 397h8v8h-8zM154 405h7v7h-7zM176 405h8v7h-8zM191 405h8v7h-8zM221 405h8v7h-8zM244 405h7v7h-7zM281 405h15v7h-15zM304 405h7v7h-7zM409 405h7v7h-7zM176 412h8v8h-8zM266 412h8v8h-8zM334 412h7v8h-7zM431 412h8v8h-8zM469 412h7v8h-7zM131 420h8v7h-8zM296 420h8v7h-8zM311 420h15v7h-15zM484 420h7v7h-7zM521 420h8v7h-8zM544 420h7v7h-7zM214 427h7v8h-7zM266 427h8v8h-8zM296 427h8v8h-8zM386 427h8v8h-8zM409 427h7v8h-7zM431 427h8v8h-8zM484 427h7v8h-7zM161 435h8v7h-8zM176 435h8v7h-8zM244 435h15v7h-15zM296 435h8v7h-8zM379 435h7v7h-7zM409 435h7v7h-7zM424 435h7v7h-7zM491 435h8v7h-8zM536 435h8v7h-8zM551 435h8v7h-8zM124 442h7v8h-7zM184 442h7v8h-7zM296 442h23v8h-23zM394 442h7v8h-7zM409 442h15v8h-15zM431 442h8v8h-8zM446 442h8v8h-8zM484 442h7v8h-7zM529 442h15v8h-15zM161 450h8v7h-8zM281 450h23v7h-23zM319 450h7v7h-7zM349 450h7v7h-7zM379 450h15v7h-15zM401 450h8v7h-8zM431 450h8v7h-8zM566 450h8v7h-8zM146 457h23v8h-23zM289 457h7v8h-7zM304 457h22v8h-22zM334 457h7v8h-7zM401 457h8v8h-8zM416 457h8v8h-8zM476 457h8v8h-8zM506 457h8v8h-8zM529 457h7v8h-7zM544 457h7v8h-7zM154 465h37v7h-37zM259 465h7v7h-7zM281 465h8v7h-8zM296 465h8v7h-8zM386 465h8v7h-8zM446 465h8v7h-8zM461 465h8v7h-8zM536 465h8v7h-8zM551 465h8v7h-8zM199 472h7v8h-7zM274 472h15v8h-15zM319 472h7v8h-7zM431 472h8v8h-8zM446 472h15v8h-15zM499 472h7v8h-7zM536 472h15v8h-15zM176 480h8v7h-8zM191 480h23v7h-23zM244 480h7v7h-7zM311 480h8v7h-8zM349 480h7v7h-7zM379 480h15v7h-15zM431 480h15v7h-15zM506 480h23v7h-23zM169 487h15v8h-15zM191 487h23v8h-23zM296 487h8v8h-8zM326 487h8v8h-8zM386 487h8v8h-8zM416 487h8v8h-8zM439 487h15v8h-15zM491 487h8v8h-8zM521 487h8v8h-8zM536 487h8v8h-8zM551 487h8v8h-8zM161 495h15v7h-15zM191 495h8v7h-8zM266 495h8v7h-8zM311 495h15v7h-15zM476 495h15v7h-15zM499 495h7v7h-7zM229 502h7v8h-7zM274 502h7v8h-7zM289 502h15v8h-15zM311 502h8v8h-8zM371 502h8v8h-8zM394 502h7v8h-7zM409 502h7v8h-7zM439 502h7v8h-7zM476 502h8v8h-8zM491 502h8v8h-8zM506 502h15v8h-15zM154 510h7v7h-7zM191 510h8v7h-8zM274 510h7v7h-7zM476 510h8v7h-8zM499 510h7v7h-7zM117 517h7v8h-7zM154 517h7v8h-7zM184 517h15v8h-15zM274 517h7v8h-7zM499 517h7v8h-7zM131 525h8v7h-8zM184 525h7v7h-7zM221 525h8v7h-8zM349 525h7v7h-7zM131 532h8v8h-8zM236 532h8v8h-8zM281 532h8v8h-8z"/>
<path fill="#0061ff" d="M251 60h8v7h-8zM274 60h7v7h-7zM244 67h7v8h-7zM259 67h22v8h-22zM244 82h7v8h-7zM536 97h8v8h-8zM536 112h8v8h-8zM536 127h8v8h-8zM536 135h8v7h-8zM574 150h7v7h-7zM589 150h8v7h-8zM326 157h8v8h-8zM589 157h8v8h-8zM319 165h15v7h-15zM544 165h7v7h-7zM566 165h15v7h-15zM199 172h7v8h-7zM304 172h7v8h-7zM319 172h15v8h-15zM341 172h8v8h-8zM566 172h23v8h-23zM236 187h15v8h-15zM334 187h7v8h-7zM289 195h7v7h-7zM334 195h7v7h-7zM334 210h7v7h-7zM349 210h7v7h-7zM334 217h7v8h-7zM341 225h8v7h-8zM236 232h8v8h-8zM326 232h8v8h-8zM236 240h8v7h-8zM236 247h8v8h-8zM259 247h7v8h-7zM334 247h7v8h-7zM349 247h7v8h-7zM251 255h8v7h-8zM311 255h8v7h-8zM334 255h15v7h-15zM341 262h8v8h-8zM521 262h8v8h-8zM244 270h7v7h-7zM341 270h8v7h-8zM236 277h8v8h-8zM341 277h8v8h-8zM236 285h8v7h-8zM341 285h8v7h-8zM319 300h7v7h-7zM581 300h16v7h-16zM364 307h7v8h-7zM439 307h15v8h-15zM581 307h16v8h-16zM461 315h8v7h-8zM589 315h8v7h-8zM356 322h8v8h-8zM439 322h7v8h-7zM581 322h16v8h-16zM446 330h23v7h-23zM304 337h7v8h-7zM364 337h7v8h-7zM364 345h15v7h-15zM469 345h7v7h-7zM356 352h8v8h-8zM371 352h8v8h-8zM364 360h7v7h-7zM416 360h8v7h-8zM461 360h8v7h-8zM589 367h8v8h-8zM379 375h7v7h-7zM251 382h8v8h-8zM379 382h7v8h-7zM364 390h7v7h-7zM371 397h8v8h-8zM394 397h7v8h-7zM401 405h8v7h-8zM536 405h15v7h-15zM356 412h8v8h-8zM521 412h15v8h-15zM544 412h7v8h-7zM199 420h7v7h-7zM266 420h8v7h-8zM341 420h8v7h-8zM131 427h8v8h-8zM311 427h8v8h-8zM349 427h7v8h-7zM319 435h22v7h-22zM244 442h7v8h-7zM341 442h8v8h-8zM124 450h7v7h-7zM251 450h8v7h-8zM334 450h7v7h-7zM124 457h7v8h-7zM356 457h8v8h-8zM124 465h7v7h-7zM221 465h8v7h-8zM341 465h8v7h-8zM356 465h8v7h-8zM124 472h7v8h-7zM356 472h8v8h-8zM476 472h8v8h-8zM221 480h8v7h-8zM356 480h8v7h-8zM124 487h7v8h-7zM244 487h7v8h-7zM349 487h7v8h-7zM124 495h7v7h-7zM124 502h7v8h-7zM221 502h8v8h-8zM349 502h7v8h-7zM124 510h7v7h-7zM221 510h8v7h-8zM341 510h15v7h-15zM124 517h7v8h-7zM221 517h8v8h-8zM551 525h8v7h-8zM124 532h7v8h-7zM146 532h8v8h-8z"/>
<path fill="#ffb200" d="M304 60h7v7h-7zM379 60h15v7h-15zM409 60h7v7h-7zM514 60h7v7h-7zM574 60h7v7h-7zM589 67h8v8h-8zM251 90h8v7h-8zM221 157h15v8h-15z"/>
<path fill="#0bf4eb" d="M424 60h7v7h-7zM131 67h8v8h-8zM296 67h8v8h-8zM506 67h15v8h-15zM139 75h7v7h-7zM161 75h8v7h-8zM296 75h8v7h-8zM131 90h8v7h-8zM176 90h8v7h-8zM124 97h15v8h-15zM199 97h7v8h-7zM154 105h7v7h-7zM199 105h7v7h-7zM446 105h8v7h-8zM139 112h15v8h-15zM169 112h7v8h-7zM184 120h7v7h-7zM499 120h7v7h-7zM529 120h7v7h-7zM131 127h8v8h-8zM169 127h15v8h-15zM491 127h8v8h-8zM559 127h7v8h-7zM139 135h7v7h-7zM199 135h7v7h-7zM259 135h7v7h-7zM326 135h8v7h-8zM394 135h7v7h-7zM139 142h7v8h-7zM169 142h7v8h-7zM341 142h8v8h-8zM371 142h15v8h-15zM454 142h7v8h-7zM529 142h7v8h-7zM124 150h7v7h-7zM139 150h7v7h-7zM371 150h8v7h-8zM461 150h8v7h-8zM521 150h8v7h-8zM161 157h8v8h-8zM281 157h15v8h-15zM364 157h7v8h-7zM146 165h8v7h-8zM229 165h15v7h-15zM274 165h7v7h-7zM221 172h8v8h-8zM386 172h8v8h-8zM484 172h7v8h-7zM491 180h8v7h-8zM124 187h7v8h-7zM274 187h7v8h-7zM161 195h8v7h-8zM206 195h8v7h-8zM236 195h8v7h-8zM266 195h8v7h-8zM379 195h15v7h-15zM439 195h7v7h-7zM454 195h7v7h-7zM566 195h8v7h-8zM124 202h7v8h-7zM154 202h7v8h-7zM169 202h7v8h-7zM244 202h7v8h-7zM266 202h8v8h-8zM446 202h8v8h-8zM169 210h15v7h-15zM266 210h8v7h-8zM281 210h8v7h-8zM326 210h8v7h-8zM401 210h8v7h-8zM529 210h7v7h-7zM154 217h7v8h-7zM199 217h7v8h-7zM266 217h8v8h-8zM281 217h8v8h-8zM304 217h15v8h-15zM401 217h8v8h-8zM431 217h8v8h-8zM469 217h7v8h-7zM536 217h8v8h-8zM551 217h8v8h-8zM176 225h15v7h-15zM214 225h7v7h-7zM259 225h7v7h-7zM304 225h7v7h-7zM349 225h7v7h-7zM409 225h7v7h-7zM446 225h8v7h-8zM566 225h8v7h-8zM154 232h7v8h-7zM199 232h15v8h-15zM251 232h8v8h-8zM289 232h7v8h-7zM319 232h7v8h-7zM401 232h15v8h-15zM461 232h8v8h-8zM499 232h7v8h-7zM551 232h8v8h-8zM169 240h7v7h-7zM191 240h8v7h-8zM274 240h15v7h-15zM304 240h7v7h-7zM409 240h7v7h-7zM484 240h7v7h-7zM551 240h8v7h-8zM139 247h7v8h-7zM176 247h8v8h-8zM206 247h15v8h-15zM296 247h8v8h-8zM356 247h8v8h-8zM401 247h8v8h-8zM431 247h15v8h-15zM454 247h15v8h-15zM506 247h8v8h-8zM574 247h7v8h-7zM139 255h7v7h-7zM161 255h15v7h-15zM184 255h15v7h-15zM206 255h8v7h-8zM259 255h7v7h-7zM326 255h8v7h-8zM401 255h8v7h-8zM431 255h15v7h-15zM529 255h7v7h-7zM176 262h23v8h-23zM281 262h8v8h-8zM319 262h7v8h-7zM394 262h7v8h-7zM416 262h8v8h-8zM499 262h7v8h-7zM176 270h8v7h-8zM236 270h8v7h-8zM259 270h7v7h-7zM274 270h7v7h-7zM289 270h7v7h-7zM364 270h7v7h-7zM379 270h7v7h-7zM454 270h15v7h-15zM529 270h7v7h-7zM161 277h8v8h-8zM176 277h8v8h-8zM206 277h8v8h-8zM259 277h7v8h-7zM311 277h8v8h-8zM349 277h7v8h-7zM379 277h15v8h-15zM416 277h8v8h-8zM484 277h7v8h-7zM536 277h8v8h-8zM154 285h15v7h-15zM176 285h8v7h-8zM191 285h8v7h-8zM214 285h7v7h-7zM274 285h7v7h-7zM326 285h15v7h-15zM371 285h8v7h-8zM416 285h8v7h-8zM454 285h7v7h-7zM506 285h8v7h-8zM206 292h8v8h-8zM244 292h7v8h-7zM334 292h7v8h-7zM439 292h7v8h-7zM251 300h8v7h-8zM296 300h8v7h-8zM334 300h7v7h-7zM431 300h8v7h-8zM176 307h8v8h-8zM199 307h7v8h-7zM409 307h15v8h-15zM461 307h8v8h-8zM139 315h7v7h-7zM169 315h7v7h-7zM191 315h8v7h-8zM214 315h7v7h-7zM424 315h7v7h-7zM131 322h8v8h-8zM229 322h7v8h-7zM251 322h8v8h-8zM424 322h7v8h-7zM536 322h8v8h-8zM551 322h8v8h-8zM154 330h7v7h-7zM236 330h15v7h-15zM266 330h8v7h-8zM424 330h7v7h-7zM439 330h7v7h-7zM536 330h23v7h-23zM139 337h7v8h-7zM206 337h15v8h-15zM236 337h8v8h-8zM311 337h8v8h-8zM326 337h8v8h-8zM349 337h7v8h-7zM424 337h30v8h-30zM491 337h23v8h-23zM521 337h15v8h-15zM544 337h15v8h-15zM199 345h7v7h-7zM214 345h7v7h-7zM236 345h8v7h-8zM289 345h7v7h-7zM311 345h15v7h-15zM386 345h8v7h-8zM401 345h8v7h-8zM476 345h15v7h-15zM521 345h15v7h-15zM559 345h7v7h-7zM161 352h15v8h-15zM199 352h7v8h-7zM236 352h8v8h-8zM319 352h15v8h-15zM394 352h7v8h-7zM476 352h15v8h-15zM514 352h7v8h-7zM544 352h7v8h-7zM559 352h15v8h-15zM124 360h7v7h-7zM146 360h15v7h-15zM176 360h8v7h-8zM199 360h7v7h-7zM251 360h8v7h-8zM274 360h7v7h-7zM341 360h8v7h-8zM386 360h23v7h-23zM431 360h8v7h-8zM469 360h7v7h-7zM491 360h30v7h-30zM566 360h8v7h-8zM124 367h7v8h-7zM229 367h7v8h-7zM266 367h8v8h-8zM289 367h7v8h-7zM311 367h8v8h-8zM386 367h8v8h-8zM409 367h7v8h-7zM431 367h8v8h-8zM454 367h7v8h-7zM491 367h15v8h-15zM514 367h7v8h-7zM529 367h7v8h-7zM559 367h7v8h-7zM131 375h8v7h-8zM154 375h7v7h-7zM184 375h7v7h-7zM199 375h7v7h-7zM236 375h8v7h-8zM266 375h30v7h-30zM401 375h8v7h-8zM506 375h15v7h-15zM529 375h7v7h-7zM551 375h8v7h-8zM131 382h8v8h-8zM229 382h7v8h-7zM244 382h7v8h-7zM296 382h8v8h-8zM484 382h15v8h-15zM139 390h7v7h-7zM199 390h7v7h-7zM236 390h8v7h-8zM341 390h8v7h-8zM394 390h7v7h-7zM484 390h7v7h-7zM506 390h8v7h-8zM176 397h15v8h-15zM206 397h8v8h-8zM274 397h7v8h-7zM296 397h8v8h-8zM319 397h7v8h-7zM341 397h15v8h-15zM401 397h15v8h-15zM484 397h7v8h-7zM499 397h7v8h-7zM514 397h7v8h-7zM161 405h8v7h-8zM184 405h7v7h-7zM274 405h7v7h-7zM326 405h8v7h-8zM371 405h8v7h-8zM416 405h15v7h-15zM461 405h8v7h-8zM499 405h7v7h-7zM206 412h8v8h-8zM311 412h8v8h-8zM461 412h8v8h-8zM236 420h15v7h-15zM274 420h7v7h-7zM289 420h7v7h-7zM326 420h8v7h-8zM394 420h15v7h-15zM551 420h8v7h-8zM566 420h15v7h-15zM259 427h7v8h-7zM274 427h7v8h-7zM289 427h7v8h-7zM304 427h7v8h-7zM356 427h15v8h-15zM379 427h7v8h-7zM491 427h8v8h-8zM529 427h7v8h-7zM566 427h15v8h-15zM236 435h8v7h-8zM274 435h7v7h-7zM304 435h15v7h-15zM364 435h15v7h-15zM401 435h8v7h-8zM416 435h8v7h-8zM431 435h8v7h-8zM484 435h7v7h-7zM529 435h7v7h-7zM544 435h7v7h-7zM566 435h8v7h-8zM154 442h7v8h-7zM169 442h15v8h-15zM236 442h8v8h-8zM281 442h15v8h-15zM364 442h7v8h-7zM401 442h8v8h-8zM154 450h7v7h-7zM176 450h30v7h-30zM274 450h7v7h-7zM311 450h8v7h-8zM364 450h7v7h-7zM394 450h7v7h-7zM446 450h8v7h-8zM506 450h15v7h-15zM529 450h7v7h-7zM184 457h7v8h-7zM199 457h7v8h-7zM244 457h7v8h-7zM281 457h8v8h-8zM296 457h8v8h-8zM379 457h7v8h-7zM409 457h7v8h-7zM454 457h7v8h-7zM514 457h7v8h-7zM566 457h8v8h-8zM244 465h7v7h-7zM289 465h7v7h-7zM319 465h15v7h-15zM401 465h15v7h-15zM431 465h15v7h-15zM484 465h7v7h-7zM499 465h7v7h-7zM559 465h7v7h-7zM581 465h8v7h-8zM117 472h7v8h-7zM184 472h7v8h-7zM244 472h7v8h-7zM266 472h8v8h-8zM289 472h15v8h-15zM334 472h7v8h-7zM386 472h8v8h-8zM409 472h22v8h-22zM439 472h7v8h-7zM484 472h15v8h-15zM566 472h8v8h-8zM146 480h23v7h-23zM184 480h7v7h-7zM274 480h7v7h-7zM326 480h8v7h-8zM401 480h15v7h-15zM446 480h8v7h-8zM499 480h7v7h-7zM529 480h15v7h-15zM559 480h15v7h-15zM161 487h8v8h-8zM184 487h7v8h-7zM304 487h7v8h-7zM319 487h7v8h-7zM394 487h7v8h-7zM431 487h8v8h-8zM476 487h8v8h-8zM514 487h7v8h-7zM544 487h7v8h-7zM566 487h8v8h-8zM176 495h15v7h-15zM199 495h15v7h-15zM229 495h7v7h-7zM274 495h7v7h-7zM304 495h7v7h-7zM394 495h7v7h-7zM431 495h15v7h-15zM491 495h8v7h-8zM514 495h15v7h-15zM536 495h8v7h-8zM161 502h15v8h-15zM259 502h7v8h-7zM304 502h7v8h-7zM319 502h7v8h-7zM364 502h7v8h-7zM379 502h7v8h-7zM484 502h7v8h-7zM499 502h7v8h-7zM521 502h8v8h-8zM206 510h15v7h-15zM229 510h7v7h-7zM281 510h8v7h-8zM296 510h23v7h-23zM371 510h8v7h-8zM401 510h15v7h-15zM446 510h8v7h-8zM491 510h8v7h-8zM506 510h8v7h-8zM521 510h8v7h-8zM139 517h7v8h-7zM176 517h8v8h-8zM206 517h8v8h-8zM281 517h15v8h-15zM319 517h7v8h-7zM371 517h8v8h-8zM394 517h7v8h-7zM446 517h8v8h-8zM506 517h8v8h-8zM529 517h7v8h-7zM206 525h8v7h-8zM236 525h8v7h-8zM289 525h7v7h-7zM311 525h8v7h-8zM326 525h8v7h-8zM454 525h7v7h-7zM484 525h7v7h-7zM499 525h7v7h-7z"/>
<path fill="#c6ff31" d="M469 60h7v7h-7zM461 82h8v8h-8zM424 90h7v7h-7zM356 105h8v7h-8zM476 135h8v7h-8zM551 142h8v8h-8zM326 150h8v7h-8zM236 157h8v8h-8zM356 180h8v7h-8zM461 180h8v7h-8zM117 195h7v7h-7zM589 247h8v8h-8zM589 262h8v8h-8zM574 285h7v7h-7z"/>
<path fill="#0013ff" d="M236 67h8v8h-8zM251 67h8v8h-8zM281 67h8v8h-8zM236 75h15v7h-15zM259 75h15v7h-15zM251 82h8v8h-8zM341 150h8v7h-8zM581 150h8v7h-8zM334 157h15v8h-15zM574 157h15v8h-15zM221 165h8v7h-8zM311 165h8v7h-8zM334 165h15v7h-15zM559 165h7v7h-7zM191 172h8v8h-8zM311 172h8v8h-8zM334 172h7v8h-7zM559 172h7v8h-7zM341 210h8v7h-8zM341 217h8v8h-8zM334 225h7v7h-7zM334 232h15v8h-15zM581 232h8v8h-8zM341 240h8v7h-8zM341 247h8v8h-8zM559 300h22v7h-22zM319 307h7v8h-7zM431 307h8v8h-8zM574 307h7v8h-7zM356 315h15v7h-15zM439 315h15v7h-15zM484 315h7v7h-7zM581 315h8v7h-8zM446 322h8v8h-8zM581 330h16v7h-16zM454 337h15v8h-15zM589 337h8v8h-8zM454 345h15v7h-15zM581 345h16v7h-16zM364 352h7v8h-7zM461 352h8v8h-8zM589 352h8v8h-8zM371 360h8v7h-8zM589 360h8v7h-8zM371 367h8v8h-8zM371 375h8v7h-8zM364 382h15v8h-15zM371 390h23v7h-23zM379 397h15v8h-15zM379 405h15v7h-15zM529 405h7v7h-7zM139 420h15v7h-15zM191 420h8v7h-8zM139 427h7v8h-7zM199 427h15v8h-15zM244 427h7v8h-7zM319 427h30v8h-30zM131 435h8v7h-8zM214 435h7v7h-7zM341 435h8v7h-8zM221 442h15v8h-15zM356 442h8v8h-8zM221 450h15v7h-15zM341 450h8v7h-8zM356 450h8v7h-8zM221 457h8v8h-8zM251 457h8v8h-8zM341 457h8v8h-8zM364 457h7v8h-7zM131 465h8v7h-8zM251 465h8v7h-8zM364 465h7v7h-7zM131 472h8v8h-8zM341 472h8v8h-8zM124 480h15v7h-15zM251 480h8v7h-8zM341 480h8v7h-8zM131 487h8v8h-8zM251 487h8v8h-8zM341 487h8v8h-8zM356 487h8v8h-8zM131 495h8v7h-8zM221 495h8v7h-8zM244 495h15v7h-15zM341 495h8v7h-8zM131 502h8v8h-8zM244 502h7v8h-7zM341 502h8v8h-8zM131 510h8v7h-8zM244 510h7v7h-7zM131 517h8v8h-8zM124 525h7v7h-7zM229 525h7v7h-7zM544 532h15v8h-15z"/>
<path fill="#0000cd" d="M251 75h8v7h-8zM566 157h8v8h-8zM304 165h7v7h-7zM551 165h8v7h-8zM551 172h8v8h-8zM581 337h8v8h-8zM206 435h8v7h-8zM251 472h8v8h-8zM266 532h8v8h-8z"/>
<path fill="#800000" d="M364 322h7v8h-7z"/>
</g>
<rect x="116.5" y="60" width="480" height="480" fill="none" stroke="#000" stroke-width="1.4"/>
<path d="M120.25 540v-5.5M120.25 60v5.5M116.5 536.25h5.5M596.5 536.25h-5.5M195.25 540v-5.5M195.25 60v5.5M116.5 461.25h5.5M596.5 461.25h-5.5M270.25 540v-5.5M270.25 60v5.5M116.5 386.25h5.5M596.5 386.25h-5.5M345.25 540v-5.5M345.25 60v5.5M116.5 311.25h5.5M596.5 311.25h-5.5M420.25 540v-5.5M420.25 60v5.5M116.5 236.25h5.5M596.5 236.25h-5.5M495.25 540v-5.5M495.25 60v5.5M116.5 161.25h5.5M596.5 161.25h-5.5M570.25 540v-5.5M570.25 60v5.5M116.5 86.25h5.5M596.5 86.25h-5.5" stroke="#000" stroke-width="0.8" fill="none"/>
<rect x="627.0" y="81.8" width="22.0" height="436.4" fill="url(#cb)"/>
<path d="M627.0 82.3L638.0 60L649.0 82.3z" fill="#800000"/>
<path d="M627.0 517.7L638.0 540L649.0 517.7z" fill="#000080"/>
<path d="M627.0 81.8L638.0 60L649.0 81.8L649.0 518.2L638.0 540L627.0 518.2z" fill="none" stroke="#000" stroke-width="1.4" stroke-linejoin="miter"/>
<path d="M649.0 518.20h-5.5M649.0 464.82h-5.5M649.0 411.44h-5.5M649.0 358.05h-5.5M649.0 304.67h-5.5M649.0 251.29h-5.5M649.0 197.91h-5.5M649.0 144.52h-5.5M649.0 91.14h-5.5" stroke="#000" stroke-width="0.8" fill="none"/>
</svg>
<div style="position:absolute;top:526.25px;font-size:16.67px;line-height:20.00px;white-space:nowrap;letter-spacing:-0.8px;right:691.10px;">0</div>
<div style="position:absolute;top:543.00px;font-size:16.67px;line-height:20.00px;white-space:nowrap;letter-spacing:-0.8px;left:120.65px;transform:translateX(-50%);">0</div>
<div style="position:absolute;top:451.25px;font-size:16.67px;line-height:20.00px;white-space:nowrap;letter-spacing:-0.8px;right:691.10px;">10</div>
<div style="position:absolute;top:543.00px;font-size:16.67px;line-height:20.00px;white-space:nowrap;letter-spacing:-0.8px;left:195.65px;transform:translateX(-50%);">10</div>
<div style="position:absolute;top:376.25px;font-size:16.67px;line-height:20.00px;white-space:nowrap;letter-spacing:-0.8px;right:691.10px;">20</div>
<div style="position:absolute;top:543.00px;font-size:16.67px;line-height:20.00px;white-space:nowrap;letter-spacing:-0.8px;left:270.65px;transform:translateX(-50%);">20</div>
<div style="position:absolute;top:301.25px;font-size:16.67px;line-height:20.00px;white-space:nowrap;letter-spacing:-0.8px;right:691.10px;">30</div>
<div style="position:absolute;top:543.00px;font-size:16.67px;line-height:20.00px;white-space:nowrap;letter-spacing:-0.8px;left:345.65px;transform:translateX(-50%);">30</div>
<div style="position:absolute;top:226.25px;font-size:16.67px;line-height:20.00px;white-space:nowrap;letter-spacing:-0.8px;right:691.10px;">40</div>
<div style="position:absolute;top:543.00px;font-size:16.67px;line-height:20.00px;white-space:nowrap;letter-spacing:-0.8px;left:420.65px;transform:translateX(-50%);">40</div>
<div style="position:absolute;top:151.25px;font-size:16.67px;line-height:20.00px;white-space:nowrap;letter-spacing:-0.8px;right:691.10px;">50</div>
<div style="position:absolute;top:543.00px;font-size:16.67px;line-height:20.00px;white-space:nowrap;letter-spacing:-0.8px;left:495.65px;transform:translateX(-50%);">50</div>
<div style="position:absolute;top:76.25px;font-size:16.67px;line-height:20.00px;white-space:nowrap;letter-spacing:-0.8px;right:691.10px;">60</div>
<div style="position:absolute;top:543.00px;font-size:16.67px;line-height:20.00px;white-space:nowrap;letter-spacing:-0.8px;left:570.65px;transform:translateX(-50%);">60</div>
<div style="position:absolute;top:507.90px;font-size:16.67px;line-height:20.00px;white-space:nowrap;letter-spacing:-0.6px;left:655.00px;">0</div>
<div style="position:absolute;top:454.52px;font-size:16.67px;line-height:20.00px;white-space:nowrap;letter-spacing:-0.6px;left:655.00px;">40</div>
<div style="position:absolute;top:401.13px;font-size:16.67px;line-height:20.00px;white-space:nowrap;letter-spacing:-0.6px;left:655.00px;">80</div>
<div style="position:absolute;top:347.75px;font-size:16.67px;line-height:20.00px;white-space:nowrap;letter-spacing:-0.6px;left:655.00px;">120</div>
<div style="position:absolute;top:294.37px;font-size:16.67px;line-height:20.00px;white-space:nowrap;letter-spacing:-0.6px;left:655.00px;">160</div>
<div style="position:absolute;top:240.99px;font-size:16.67px;line-height:20.00px;white-space:nowrap;letter-spacing:-0.6px;left:655.00px;">200</div>
<div style="position:absolute;top:187.60px;font-size:16.67px;line-height:20.00px;white-space:nowrap;letter-spacing:-0.6px;left:655.00px;">240</div>
<div style="position:absolute;top:134.22px;font-size:16.67px;line-height:20.00px;white-space:nowrap;letter-spacing:-0.6px;left:655.00px;">280</div>
<div style="position:absolute;top:80.84px;font-size:16.67px;line-height:20.00px;white-space:nowrap;letter-spacing:-0.6px;left:655.00px;">320</div>
<div style="position:absolute;top:9.00px;font-size:16.67px;line-height:20.00px;white-space:nowrap;left:400.00px;transform:translateX(-50%);">Data file: modeM0/AS1G05_210T01_9000000454_03399cztM0_level2_quad_clean.evt</div>
<div style="position:absolute;top:34.91px;font-size:20.15px;line-height:24.18px;white-space:nowrap;left:355.80px;transform:translateX(-50%);">Quadrant 1 DPH</div>
</div></body></html>
